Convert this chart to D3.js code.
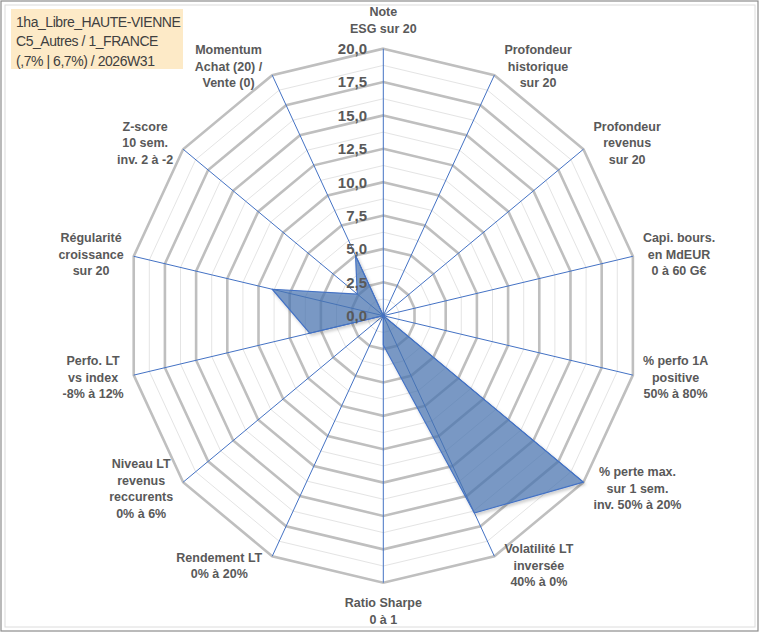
<!DOCTYPE html>
<html>
<head>
<meta charset="utf-8">
<script src="https://cdn.jsdelivr.net/npm/d3@7"></script>
<style>
  body { margin: 0; background: #fff; }
  svg { display: block; }
</style>
</head>
<body>
<svg id="chart" width="760" height="633"></svg>
<script>
// Libellés des axes (une ligne par "\n")
const axes = [
  "Note\nESG sur 20",
  "Profondeur\nhistorique\nsur 20",
  "Profondeur\nrevenus\nsur 20",
  "Capi. bours.\nen MdEUR\n0 à 60 G€",
  "% perfo 1A\npositive\n50% à 80%",
  "% perte max.\nsur 1 sem.\ninv. 50% à 20%",
  "Volatilité LT\ninversée\n40% à 0%",
  "Ratio Sharpe\n0 à 1",
  "Rendement LT\n0% à 20%",
  "Niveau LT\nrevenus\nreccurents\n0% à 6%",
  "Perfo. LT\nvs index\n-8% à 12%",
  "Régularité\ncroissance\nsur 20",
  "Z-score\n10 sem.\ninv. 2 à -2",
  "Momentum\nAchat (20) /\nVente (0)"
];

// Notes (échelle 0 à 20)
const valeurs = [0, 0, 0, 0, 0, 20, 16.4, 2.2, 0, 0, 5.9, 8.9, 2.6, 5.0];

// Graduations
const graduations = [0, 2.5, 5, 7.5, 10, 12.5, 15, 17.5, 20];
const grilleSecondaire = [1.25, 3.75, 6.25, 8.75, 11.25, 13.75, 16.25, 18.75];

const titre = ["1ha_Libre_HAUTE-VIENNE", "C5_Autres / 1_FRANCE", "(,7% | 6,7%) / 2026W31"];

const width = 760, height = 633;
const cx = 383.3, cy = 315.7;
const svg = d3.select("#chart");

// Le graphique Excel est légèrement écrasé horizontalement
const rX = d3.scaleLinear().domain([0, 20]).range([0, 256]);
const rY = d3.scaleLinear().domain([0, 20]).range([0, 267]);
const angle = d3.scaleLinear().domain([0, axes.length]).range([0, 2 * Math.PI]);

function point(i, v) {
  const a = angle(i);
  return [cx + rX(v) * Math.sin(a), cy - rY(v) * Math.cos(a)];
}

// Ombre légère du polygone
const defs = svg.append("defs");
defs.append("filter").attr("id", "ombre")
  .attr("x", "-10%").attr("y", "-10%").attr("width", "130%").attr("height", "130%")
  .append("feDropShadow")
  .attr("dx", 1.5).attr("dy", 2).attr("stdDeviation", 1.8)
  .attr("flood-color", "#000").attr("flood-opacity", 0.25);

// Fond et bordures
svg.append("rect").attr("x", 0).attr("y", 0).attr("width", width).attr("height", height).attr("fill", "#fff");
svg.append("rect").attr("x", 1).attr("y", 1).attr("width", width - 3).attr("height", height - 3)
  .attr("fill", "none").attr("stroke", "#8c8c8c").attr("stroke-width", 1.2);
svg.append("rect").attr("x", 5).attr("y", 5).attr("width", width - 10).attr("height", height - 11)
  .attr("fill", "none").attr("stroke", "#dcdcdc").attr("stroke-width", 1);

const ligne = d3.line();
const idx = d3.range(axes.length);

// Grille secondaire (fine)
svg.append("g").selectAll("path")
  .data(grilleSecondaire)
  .join("path")
  .attr("d", v => ligne(idx.map(i => point(i, v))) + "Z")
  .attr("fill", "none")
  .attr("stroke", "#e4e4e4")
  .attr("stroke-width", 1);

// Grille principale
svg.append("g").selectAll("path")
  .data(graduations.filter(v => v > 0))
  .join("path")
  .attr("d", v => ligne(idx.map(i => point(i, v))) + "Z")
  .attr("fill", "none")
  .attr("stroke", "#bfbfbf")
  .attr("stroke-width", 2.6)
  .attr("stroke-linejoin", "miter");

// Rayons
svg.append("g").selectAll("line")
  .data(idx)
  .join("line")
  .attr("x1", cx).attr("y1", cy)
  .attr("x2", i => point(i, 20)[0])
  .attr("y2", i => point(i, 20)[1])
  .attr("stroke", "#4472c4")
  .attr("stroke-width", 1);

// Série
svg.append("path")
  .attr("d", ligne(valeurs.map((v, i) => point(i, v))) + "Z")
  .attr("fill", "#4a78b6")
  .attr("fill-opacity", 0.68)
  .attr("stroke", "#4472c4")
  .attr("stroke-width", 1.2)
  .attr("stroke-linejoin", "round")
  .attr("filter", "url(#ombre)");

// Étiquettes de graduation
svg.append("g").selectAll("text")
  .data(graduations)
  .join("text")
  .attr("x", 367)
  .attr("y", v => cy - rY(v))
  .attr("dy", "0.36em")
  .attr("text-anchor", "end")
  .attr("font-family", "'Liberation Sans', Arial, sans-serif")
  .attr("font-weight", "bold")
  .attr("font-size", 15)
  .attr("fill", "#595959")
  .text(v => d3.format(".1f")(v).replace(".", ","));

// Libellés des axes
const interligne = 16.5;
const gLab = svg.append("g")
  .attr("font-family", "'Liberation Sans', Arial, sans-serif")
  .attr("font-weight", "bold")
  .attr("font-size", 12.5)
  .attr("fill", "#595959");

axes.forEach((lab, i) => {
  const lignes = lab.split("\n");
  const a = angle(i);
  const [vx, vy] = point(i, 20);
  const t = gLab.append("text").attr("text-anchor", "middle");
  lignes.forEach((l, k) => t.append("tspan").attr("x", 0).attr("y", k * interligne).text(l));
  const w = d3.max(t.selectAll("tspan").nodes(), n => n.getComputedTextLength());
  const h = lignes.length * interligne;
  const s = Math.sin(a), c = Math.cos(a);
  let lx, ly;
  if (Math.abs(s) < 0.01) {
    lx = vx;
    ly = vy - Math.sign(c) * (h / 2 + 12);
  } else {
    lx = vx + Math.sign(s) * (w / 2 + 10);
    ly = vy - c * 10;
  }
  // centrer le bloc verticalement
  t.attr("transform", `translate(${lx},${ly - h / 2 + interligne / 2 + 4.5})`);
});

// Cartouche titre
svg.append("rect")
  .attr("x", 11).attr("y", 9).attr("width", 172).attr("height", 60)
  .attr("fill", "#fdeac7");
svg.append("g").selectAll("text")
  .data(titre)
  .join("text")
  .attr("x", 16)
  .attr("y", (d, i) => 26.5 + i * 19.5)
  .attr("font-family", "'Liberation Sans', Arial, sans-serif")
  .attr("font-size", 14)
  .attr("letter-spacing", "-0.45px")
  .attr("fill", "#404040")
  .text(d => d);
</script>
</body>
</html>
